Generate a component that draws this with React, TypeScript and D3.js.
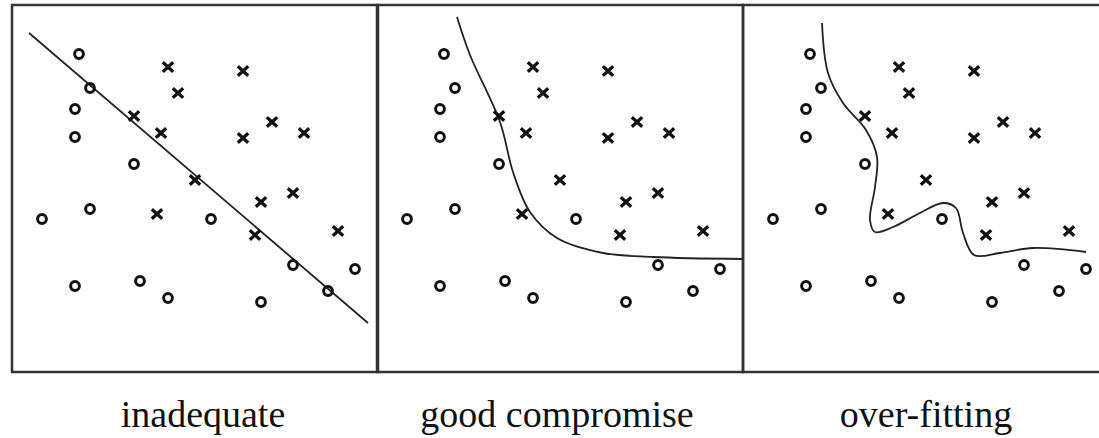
import React from "react";
import * as d3 from "d3";

// Points shared by all three panels (data units: x 0..366 left→right, y 0..367 top→bottom)
const circlePoints: [number, number][] = [
  [67, 49], [78, 83], [63, 104], [63, 132], [122, 159], [78, 204], [30, 214],
  [199, 214], [281, 260], [343, 264], [63, 281], [128, 276], [156, 293],
  [249, 297], [316, 286],
];
const crossPoints: [number, number][] = [
  [156, 62], [231, 66], [166, 88], [122, 111], [149, 128], [260, 117],
  [231, 133], [292, 128], [183, 175], [281, 188], [249, 197], [145, 209],
  [243, 230], [326, 226],
];

// Decision boundaries
const boundaryLinear: [number, number][] = [[17, 28], [356, 318]];
const boundaryGood: [number, number][] = [
  [80, 12], [93, 50], [123, 117], [136, 167], [153, 207], [180, 233],
  [226, 248], [276, 252], [366, 254],
];
const boundaryOverfit: [number, number][] = [
  [79, 18], [85, 68], [100, 98], [123, 125], [134, 152], [132, 182],
  [127, 215], [132, 227], [150, 222], [177, 208], [200, 198], [213, 203],
  [220, 228], [231, 250], [257, 248], [290, 243], [343, 247],
];

const panelTitles = ["inadequate", "good compromise", "over-fitting"];

const W = 1099;
const H = 438;
const panelLefts = [12, 377, 743];
const panelTop = 5;
const panelW = 366;
const panelH = 367;
const labelX = [203, 557, 926];
const labelY = 427;

export default function App() {
  const x = d3.scaleLinear().domain([0, 366]).range([0, panelW]);
  const y = d3.scaleLinear().domain([0, 367]).range([0, panelH]);
  const boundaries = [boundaryLinear, boundaryGood, boundaryOverfit];
  const curves = [d3.curveLinear, d3.curveCatmullRom.alpha(0.5), d3.curveCatmullRom.alpha(0.5)];

  return (
    <svg
      width={W}
      height={H}
      style={{ position: "absolute", left: 0, top: 0, background: "#fff" }}
    >
      <rect x={0} y={0} width={W} height={H} fill="#fff" />
      {panelLefts.map((left, i) => {
        const line = d3
          .line<[number, number]>()
          .x((d) => x(d[0]))
          .y((d) => y(d[1]))
          .curve(curves[i]);
        return (
          <g key={i} transform={`translate(${left},${panelTop})`}>
            <rect
              x={0}
              y={0}
              width={panelW}
              height={panelH}
              fill="none"
              stroke="#333"
              strokeWidth={2.5}
            />
            <path d={line(boundaries[i]) || ""} fill="none" stroke="#222" strokeWidth={1.8} />
            {circlePoints.map((p, j) => (
              <circle
                key={"o" + j}
                cx={x(p[0])}
                cy={y(p[1])}
                r={4.4}
                fill="none"
                stroke="#111"
                strokeWidth={3}
              />
            ))}
            {crossPoints.map((p, j) => {
              const cx = x(p[0]);
              const cy = y(p[1]);
              const a = 5.2;
              const b = 4.8;
              return (
                <path
                  key={"x" + j}
                  d={`M${cx - a},${cy - b}L${cx + a},${cy + b}M${cx + a},${cy - b}L${cx - a},${cy + b}`}
                  stroke="#111"
                  strokeWidth={3.2}
                  fill="none"
                />
              );
            })}
          </g>
        );
      })}
      {panelTitles.map((t, i) => (
        <text
          key={t}
          x={labelX[i]}
          y={labelY}
          textAnchor="middle"
          fontFamily="'Liberation Serif', 'DejaVu Serif', serif"
          fontSize={38}
          fill="#111"
        >
          {t}
        </text>
      ))}
    </svg>
  );
}
